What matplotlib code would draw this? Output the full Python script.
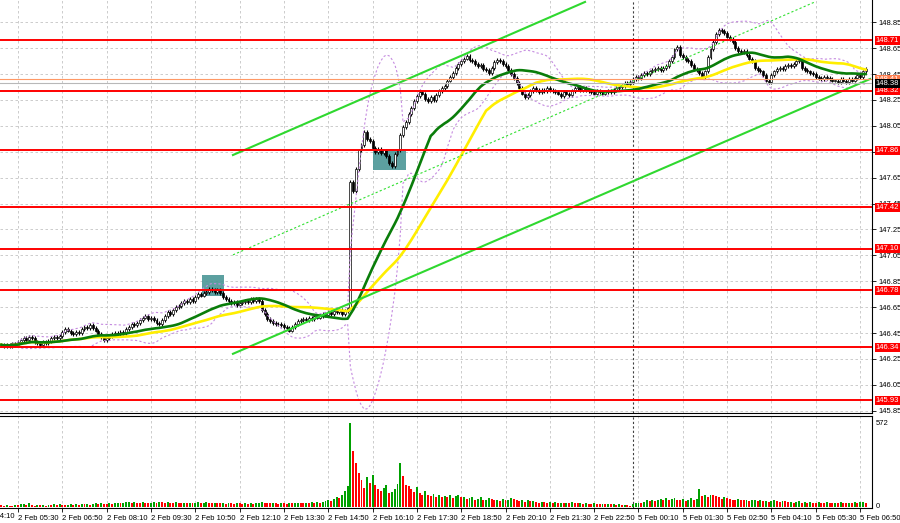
import numpy as np
import pandas as pd
import matplotlib
matplotlib.use("Agg")
import matplotlib.pyplot as plt
from matplotlib.patches import Rectangle
from matplotlib.transforms import blended_transform_factory

plt.rcParams['font.family'] = ['Liberation Sans', 'DejaVu Sans']

# M5 closes, 2 Feb 05:00 .. 5 Feb 07:00 (weekend removed)
closes = [
    146.36, 146.35, 146.36, 146.35, 146.37, 146.36, 146.38,
    146.40, 146.41, 146.40, 146.42, 146.41,
    146.38, 146.37, 146.36, 146.38, 146.37,
    146.39, 146.41, 146.42, 146.41, 146.43,
    146.46, 146.48, 146.47,
    146.45, 146.44, 146.46, 146.45,
    146.48, 146.50, 146.49, 146.51, 146.49, 146.47,
    146.44, 146.42, 146.40, 146.41,
    146.43, 146.44, 146.45, 146.44, 146.46, 146.45, 146.48,
    146.50, 146.52, 146.51, 146.53, 146.55,
    146.57, 146.58, 146.56, 146.57, 146.55,
    146.53, 146.52, 146.55,
    146.58, 146.61, 146.60, 146.63, 146.65, 146.66,
    146.68, 146.70, 146.69, 146.71, 146.70,
    146.73, 146.75, 146.74, 146.76, 146.77,
    146.79, 146.78, 146.77, 146.78, 146.76,
    146.73, 146.71,
    146.70, 146.68, 146.69, 146.67, 146.68,
    146.69, 146.70, 146.69, 146.71, 146.70, 146.71, 146.70,
    146.63, 146.60,
    146.56, 146.54, 146.53, 146.52, 146.52, 146.51,
    146.50, 146.49, 146.47, 146.50,
    146.52, 146.54, 146.55, 146.56, 146.55, 146.57, 146.56, 146.58, 146.57,
    146.58, 146.60, 146.59, 146.61, 146.60, 146.62, 146.61, 146.63, 146.60, 146.62, 146.64,
    147.62,
    147.55, 147.72,
    147.86, 147.90,
    148.00, 147.95, 147.93,
    147.88, 147.85, 147.87, 147.84, 147.86, 147.82,
    147.76, 147.74,
    147.83, 147.86,
    147.98, 148.04, 148.08,
    148.14, 148.19, 148.24, 148.28,
    148.31, 148.30,
    148.26, 148.24, 148.27, 148.25, 148.29,
    148.32, 148.34, 148.36, 148.40,
    148.43, 148.46, 148.50,
    148.53, 148.55,
    148.57, 148.59, 148.56, 148.55,
    148.53, 148.51, 148.52, 148.49,
    148.48, 148.46, 148.50,
    148.54, 148.56, 148.55,
    148.53, 148.51,
    148.48, 148.45, 148.42, 148.38,
    148.34, 148.30,
    148.27, 148.29,
    148.32, 148.34, 148.33, 148.31, 148.33, 148.32, 148.34, 148.33, 148.32, 148.31,
    148.30, 148.28, 148.31, 148.30, 148.29,
    148.32, 148.34, 148.35, 148.33, 148.34, 148.33, 148.32,
    148.31, 148.30, 148.32, 148.31, 148.30, 148.31, 148.32, 148.31, 148.33, 148.34,
    148.35, 148.36, 148.38, 148.37, 148.39,
    148.41, 148.43, 148.42,
    148.44, 148.46, 148.45, 148.47,
    148.48, 148.49, 148.50, 148.48, 148.50, 148.51,
    148.55, 148.58,
    148.64, 148.66,
    148.60, 148.58, 148.56, 148.55,
    148.52, 148.49, 148.48, 148.46,
    148.43, 148.47,
    148.58, 148.64, 148.70,
    148.76, 148.79, 148.78,
    148.77, 148.74, 148.72, 148.70,
    148.65, 148.63,
    148.62, 148.63, 148.60,
    148.57, 148.55,
    148.50, 148.48, 148.47, 148.44,
    148.40, 148.39,
    148.44, 148.47, 148.49, 148.50, 148.49,
    148.51, 148.52, 148.51, 148.53, 148.55,
    148.56,
    148.50, 148.48, 148.47, 148.46, 148.45,
    148.43, 148.42, 148.41, 148.43, 148.42, 148.41, 148.40,
    148.40, 148.39, 148.41, 148.40, 148.39, 148.41, 148.40,
    148.42, 148.44, 148.43,
    148.47, 148.49,
]

volumes = [
    12, 8, 15, 10, 9, 14, 11, 18, 22, 13,
    30, 12, 9, 14, 11, 13, 10, 15, 12, 17,
    14, 18, 16, 12, 15, 19, 13, 17, 15, 20,
    18, 22, 16, 19, 24, 21, 28, 23, 19, 25,
    22, 27, 30, 24, 28, 33, 36, 30, 34, 29,
    26, 31, 28, 24, 30, 33, 27, 35, 31, 29,
    34, 30, 27, 32, 28, 25, 30, 26, 29, 24,
    27, 31, 26, 29, 33, 28, 25, 30, 27, 24,
    26, 22, 28, 25, 23, 27, 24, 21, 26, 23,
    25, 22, 24, 28, 35, 30, 27, 24, 29, 26,
    23, 27, 25, 22, 28, 24, 26, 30, 27, 25,
    29, 26, 31, 28, 33, 30, 35, 38, 45, 40,
    55, 70, 60, 85, 110, 140,
    572,
    380, 300, 230, 185, 130, 205, 165, 220, 150, 125,
    110, 130, 150, 95, 105, 120, 160, 300, 210, 150,
    140, 120, 100, 135, 95, 85, 110, 80, 75, 90,
    70, 85, 65, 75, 70, 80, 60, 75, 85, 65,
    70, 55, 60, 70, 50, 55, 65, 45, 50, 60,
    55, 45, 50, 40, 55, 45, 50, 60, 55, 45,
    40, 50, 35, 45, 38, 42, 35, 30, 36, 33,
    30, 35, 28, 32, 27, 30, 25, 29, 26, 31,
    28, 24, 27, 22, 25, 23, 20, 24, 21, 19,
    22, 18, 20, 17, 19, 15, 18, 14, 16, 12, 10,
    20, 25, 30, 28, 35, 45, 40, 50, 38, 45, 55, 48, 60,
    45, 55, 60, 50, 45, 55, 40, 50, 60, 45, 55,
    125,
    75, 80, 70, 85, 80, 75, 65, 55, 70, 60,
    55, 50, 45, 55, 50, 45, 50, 40, 45, 50,
    40, 45, 38, 42, 35, 40, 45, 38, 35, 40,
    38, 32, 36, 30, 34, 38, 30, 35, 28, 32,
    30, 27, 33, 29, 26, 31, 28, 25, 30, 27,
    32, 28, 26, 30, 27, 33, 29, 31, 35, 24,
]
assert len(closes) == len(volumes), (len(closes), len(volumes))

levels = [148.71, 148.32, 147.86, 147.42, 147.10, 146.78, 146.34, 145.93]
price_ticks = [145.85, 146.05, 146.25, 146.45, 146.65, 146.85,
               147.05, 147.25, 147.45, 147.65, 147.85, 148.05,
               148.25, 148.45, 148.65, 148.85]
time_pos = [6, 22, 38, 54, 70, 86, 102, 118, 134, 150, 166, 182,
            198, 214, 230, 246, 262, 278, 294, 310]
time_labels = ["2 Feb 05:30", "2 Feb 06:50", "2 Feb 08:10", "2 Feb 09:30",
               "2 Feb 10:50", "2 Feb 12:10", "2 Feb 13:30", "2 Feb 14:50",
               "2 Feb 16:10", "2 Feb 17:30", "2 Feb 18:50", "2 Feb 20:10",
               "2 Feb 21:30", "2 Feb 22:50", "5 Feb 00:10", "5 Feb 01:30",
               "5 Feb 02:50", "5 Feb 04:10", "5 Feb 05:30", "5 Feb 06:50"]
day_break = 228
ask_price = 148.41
bid_price = 148.38

# trend channel (bar index, price)
chan_upper = ([83.6, 210.7], [147.825, 149.007])
chan_lower = ([83.6, 313.6], [146.29, 148.412])
chan_mid = ([83.6, 293.7], [147.054, 149.007])

# signal boxes: x0, x1, y0, y1
boxes = [(72.4, 80.4, 146.736, 146.899), (134.2, 146.1, 147.71, 147.872)]

n = len(closes)
idx = np.arange(n)
c = np.array(closes)
o = np.concatenate([[c[0]], c[:-1]])
wick = 0.015
hi = np.maximum(o, c) + wick
lo = np.minimum(o, c) - wick

s = pd.Series(c)
ma_green = s.rolling(30, min_periods=1).mean()
ma_yellow = s.rolling(50, min_periods=1).mean()
bb_mid = s.rolling(20, min_periods=5).mean()
bb_sd = s.rolling(20, min_periods=5).std(ddof=0)

fig = plt.figure(figsize=(9, 5.23), dpi=100)
W, H = 900, 523
ax = fig.add_axes([0, 1 - 413 / H, 872 / W, 413 / H])
axv = fig.add_axes([0, 1 - 508 / H, 872 / W, (508 - 416) / H])

xlim = (-0.5, 314.3)
grid_kw = dict(color='#c4c4c4', lw=0.6, ls=(0, (3, 3)))

# main panel
ax.set_xlim(*xlim)
ax.set_ylim(145.833, 149.022)
for p in price_ticks:
    ax.axhline(p, zorder=0, **grid_kw)
for t in time_pos:
    ax.axvline(t, zorder=0, **grid_kw)
    axv.axvline(t, zorder=0, **grid_kw)
ax.axvline(day_break, color='#404040', lw=0.8, ls=(0, (2, 2)), zorder=1)
axv.axvline(day_break, color='#404040', lw=0.8, ls=(0, (2, 2)), zorder=1)

for x0, x1, y0, y1 in boxes:
    ax.add_patch(Rectangle((x0, y0), x1 - x0, y1 - y0, fc='#4a9696',
                           ec='none', alpha=0.9, zorder=1.5))

ax.vlines(idx, lo, hi, color='black', lw=0.8, zorder=2)
up = c >= o
body_h = np.where(np.abs(c - o) < 0.004, 0.004, np.abs(c - o))
ax.bar(idx, body_h, bottom=np.minimum(o, c), width=0.7,
       color=np.where(up, 'white', 'black'), edgecolor='black', lw=0.5,
       zorder=2.2)

ax.plot(idx, bb_mid + 2 * bb_sd, color='#c58be0', lw=0.8, ls=(0, (2, 2)), zorder=3)
ax.plot(idx, bb_mid - 2 * bb_sd, color='#c58be0', lw=0.8, ls=(0, (2, 2)), zorder=3)
ax.plot(idx, ma_yellow, color='#ffee00', lw=1.9, zorder=3.5)
ax.plot(idx, ma_green, color='#0a7d0a', lw=1.9, zorder=3.6)

ax.plot(*chan_upper, color='#2fd82f', lw=1.5, zorder=4)
ax.plot(*chan_lower, color='#2fd82f', lw=1.5, zorder=4)
ax.plot(*chan_mid, color='#2fe02f', lw=0.8, ls=(0, (2, 2)), zorder=4)

for lev in levels:
    ax.axhline(lev, color='#ff0000', lw=1.4, zorder=4.5)
ax.axhline(ask_price, color='#ff9966', lw=0.8, zorder=4.4)
ax.axhline(bid_price, color='#b8b8b8', lw=0.8, zorder=4.4)

ax.set_yticks(price_ticks)
ax.set_yticklabels([f"{p:.2f}" for p in price_ticks])
ax.yaxis.tick_right()
ax.tick_params(axis='y', length=3, labelsize=5.5, pad=1.5, width=0.6)
ax.set_xticks([])
for side in ['left', 'top']:
    ax.spines[side].set_visible(False)
for side in ['right', 'bottom']:
    ax.spines[side].set_linewidth(0.8)

tr = blended_transform_factory(ax.transAxes, ax.transData)
lab_kw = dict(transform=tr, fontsize=5.5, va='center', ha='left',
              clip_on=False, zorder=10)
ax.text(1.004, ask_price, f"{ask_price:.2f}", color='white',
        bbox=dict(boxstyle='square,pad=0.12', fc='#ff7f50', ec='none'), **lab_kw)
for lev in levels:
    ax.text(1.004, lev, f"{lev:.2f}", color='white',
            bbox=dict(boxstyle='square,pad=0.12', fc='#ff0000', ec='none'), **lab_kw)
ax.text(1.004, bid_price, f"{bid_price:.2f}", color='white',
        bbox=dict(boxstyle='square,pad=0.12', fc='black', ec='none'), **lab_kw)

# volume panel
v = np.array(volumes)
prev_v = np.concatenate([[v[0]], v[:-1]])
vcol = np.where(v > prev_v, '#00a000', '#ff0000')
axv.bar(idx, v, width=0.7, color=vcol, zorder=2)
axv.set_xlim(*xlim)
axv.set_ylim(-7, 621)
axv.set_yticks([])
axv.spines['left'].set_visible(False)
for side in ['right', 'bottom', 'top']:
    axv.spines[side].set_linewidth(0.8)
vtr = blended_transform_factory(axv.transAxes, axv.transData)
axv.text(1.004, 572, "572", transform=vtr, fontsize=5.5, va='center',
         ha='left', clip_on=False)
axv.text(1.004, 5, "0", transform=vtr, fontsize=5.5, va='center',
         ha='left', clip_on=False)

axv.set_xticks(time_pos)
axv.set_xticklabels(time_labels, ha='left')
axv.tick_params(axis='x', length=3, labelsize=5.5, pad=2, width=0.6)
axv.text(-10, -0.057, "2 Feb 04:10",
         transform=blended_transform_factory(axv.transData, axv.transAxes),
         fontsize=5.5, ha='left', va='top', clip_on=False)

fig.savefig("out.png", dpi=100)
